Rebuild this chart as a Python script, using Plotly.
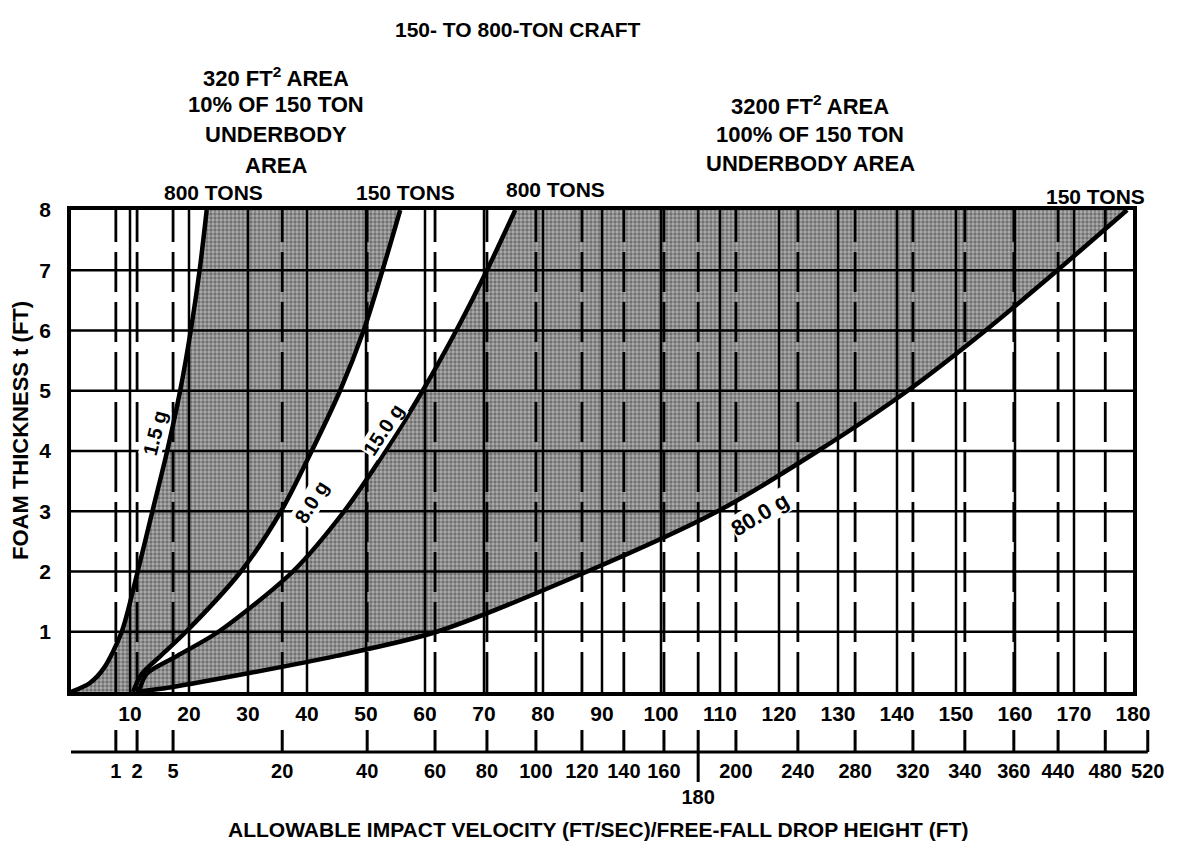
import plotly.graph_objects as go

# velocity scale (ft/sec) and foam thickness scale (ft)
velocity_ticks = [10, 20, 30, 40, 50, 60, 70, 80, 90, 100, 110, 120, 130, 140, 150, 160, 170, 180]
thickness_ticks = [1, 2, 3, 4, 5, 6, 7, 8]

# free-fall drop height scale, placed at its velocity position
drop_labels = ["1", "2", "5", "20", "40", "60", "80", "100", "120", "140", "160", "180",
               "200", "240", "280", "320", "340", "360", "440", "480", "520"]
drop_pos = [7.6, 11.2, 17.3, 35.8, 50.2, 61.7, 70.5, 78.8, 86.6, 93.7, 100.5, 106.3,
            112.7, 123.2, 132.9, 142.7, 151.5, 159.8, 167.3, 175.3, 182.5]

# boundary curves: velocity reached at each foam thickness
t_800_small = [0, 0.15, 0.4, 1, 2, 3, 4, 5, 6, 7, 8]
v_800_small = [0, 3.2, 5.6, 8.6, 11.3, 13.8, 16.3, 18.5, 20.3, 21.8, 23.0]       # 1.5 g
t_150_small = [0, 0.3, 0.6, 1, 2, 3, 4, 5, 6, 7, 8]
v_150_small = [10.5, 12, 15.2, 19.5, 28.8, 35.6, 40.8, 45.6, 49.6, 52.8, 55.8]  # 8.0 g
t_800_large = [0, 0.3, 0.6, 1, 2, 3, 4, 5, 6, 7, 8]
v_800_large = [11.5, 12.8, 18, 25, 37.6, 46.3, 53.3, 59.6, 65.3, 70.5, 75.3]   # 15.0 g
t_150_large = [0, 0.08, 0.31, 0.6, 1, 2, 3, 4, 5, 6, 7, 8]
v_150_large = [11, 17, 30, 45, 62, 87.5, 109.6, 126.6, 141.8, 155, 167.2, 179]  # 80.0 g

FONT = "Liberation Sans"
OFF = 8  # page body margin
W, H = 1190 - 2 * OFF, 851 - 2 * OFF
# plot area in page pixels: x 71..1150, y 210..820
PL, PR, PT, PB = 71, 1150, 210, 820
PW, PH = PR - PL, PB - PT


def px_x(px):
    return (px - PL) / PW


def px_y(py):
    return (PB - py) / PH


def txt(size):
    return dict(family=FONT, size=size, color="black", weight="bold")


halftone = dict(shape=".", bgcolor="#6c6c6c", fgcolor="#e6e6e6", size=4, solidity=0.55)

fig = go.Figure()

# shaded bands between the tonnage curves
bands = [
    (v_800_small + v_150_small[::-1], t_800_small + t_150_small[::-1]),
    (v_800_large + v_150_large[::-1], t_800_large + t_150_large[::-1]),
]
for bx, by in bands:
    fig.add_trace(go.Scatter(
        x=bx, y=by, mode="lines", fill="toself", line=dict(width=0),
        fillcolor="#6c6c6c", fillpattern=halftone, hoverinfo="skip",
    ))

# solid grid, drawn over the shading
gx, gy = [], []
for v in velocity_ticks[:-1]:
    gx += [v, v, None]
    gy += [0, thickness_ticks[-1], None]
for t in thickness_ticks[:-1]:
    gx += [0, velocity_ticks[-1], None]
    gy += [t, t, None]
fig.add_trace(go.Scatter(x=gx, y=gy, mode="lines",
                         line=dict(color="black", width=2.5), hoverinfo="skip"))

# dashed drop-height lines
dx, dy = [], []
for p in drop_pos:
    if p < velocity_ticks[-1]:
        dx += [p, p, None]
        dy += [0, thickness_ticks[-1], None]
fig.add_trace(go.Scatter(x=dx, y=dy, mode="lines",
                         line=dict(color="black", width=2.8, dash="40px,10px"),
                         hoverinfo="skip"))

# curves
for v, t in [(v_800_small, t_800_small), (v_150_small, t_150_small),
             (v_800_large, t_800_large), (v_150_large, t_150_large)]:
    fig.add_trace(go.Scatter(x=v, y=t, mode="lines",
                             line=dict(color="black", width=4.5, shape="spline", smoothing=0.8),
                             hoverinfo="skip"))

# drop height scale under the velocity axis
fig.add_trace(go.Scatter(x=[0, drop_pos[-1]], y=[0, 0], mode="lines", xaxis="x2", yaxis="y2",
                         line=dict(color="black", width=3), hoverinfo="skip"))
tx, ty = [], []
for p, lab in zip(drop_pos, drop_labels):
    tx += [p, p, None]
    ty += [-30 if lab == "180" else 0, 22, None]
fig.add_trace(go.Scatter(x=tx, y=ty, mode="lines", xaxis="x2", yaxis="y2",
                         line=dict(color="black", width=3), hoverinfo="skip"))
fig.add_trace(go.Scatter(
    x=drop_pos, y=[-47 if lab == "180" else -21 for lab in drop_labels],
    mode="text", text=drop_labels, textposition="middle center", cliponaxis=False,
    textfont=txt(20), xaxis="x2", yaxis="y2", hoverinfo="skip"))

ann = []
curve_labels = [("1.5 g", 14.2, 4.3, -76, 20), ("8.0 g", 40.8, 3.15, -58, 20),
                ("15.0 g", 52.9, 4.35, -57, 20), ("80.0 g", 116.8, 2.94, -31, 22)]
for text, x, y, ang, size in curve_labels:
    ann.append(dict(text=text, x=x, y=y, xref="x", yref="y", showarrow=False,
                    textangle=ang, bgcolor="white", borderpad=0, font=txt(size)))

tons = [("800 TONS", 213, 193), ("150 TONS", 405, 193),
        ("800 TONS", 555, 190), ("150 TONS", 1095, 196)]
for text, x, y in tons:
    ann.append(dict(text=text, x=px_x(x), y=px_y(y), showarrow=False, font=txt(21)))

small_area = ["320 FT<sup>2</sup> AREA", "10% OF 150 TON", "UNDERBODY", "AREA"]
for text, y in zip(small_area, [77, 105, 135, 165]):
    ann.append(dict(text=text, x=px_x(276), y=px_y(y), showarrow=False, font=txt(22)))
large_area = ["3200 FT<sup>2</sup> AREA", "100% OF 150 TON", "UNDERBODY AREA"]
for text, y in zip(large_area, [105, 134, 163]):
    ann.append(dict(text=text, x=px_x(810), y=px_y(y), showarrow=False, font=txt(22)))

ann.append(dict(text="150- TO 800-TON CRAFT", x=px_x(393), y=px_y(30), xanchor="left",
                showarrow=False, font=txt(21)))
ann.append(dict(text="FOAM THICKNESS t (FT)", x=px_x(20), y=px_y(431), textangle=-90,
                showarrow=False, font=txt(22)))
ann.append(dict(text="ALLOWABLE IMPACT VELOCITY (FT/SEC)/FREE-FALL DROP HEIGHT (FT)",
                x=px_x(598), y=px_y(829), showarrow=False, font=txt(21)))

for a in ann:
    a.setdefault("xref", "paper")
    a.setdefault("yref", "paper")
    a.setdefault("xanchor", "center")
    a.setdefault("yanchor", "middle")

fig.update_layout(
    width=W, height=H,
    margin=dict(l=PL - OFF, r=W - (PR - OFF), t=PT - OFF, b=H - (PB - OFF)),
    plot_bgcolor="white", paper_bgcolor="white",
    showlegend=False,
    annotations=ann,
    xaxis=dict(domain=[0, 180 * 5.9 / PW], range=[0, 180], tickvals=velocity_ticks,
               showgrid=False, zeroline=False, showline=True, mirror=True,
               linecolor="black", linewidth=3.5, ticks="", ticklabelstandoff=0,
               automargin=False, tickfont=txt(21)),
    yaxis=dict(domain=[px_y(692), 1], range=[0, 8], tickvals=thickness_ticks,
               showgrid=False, zeroline=False, showline=True, mirror=True,
               linecolor="black", linewidth=3.5, ticks="", ticklabelstandoff=12,
               automargin=False, tickfont=txt(21)),
    xaxis2=dict(domain=[0, 1], range=[0, PW / 5.9], anchor="y2", visible=False),
    yaxis2=dict(domain=[px_y(815), px_y(720)], range=[-63, 32], anchor="x2", visible=False),
)

fig.write_html("out.html")
